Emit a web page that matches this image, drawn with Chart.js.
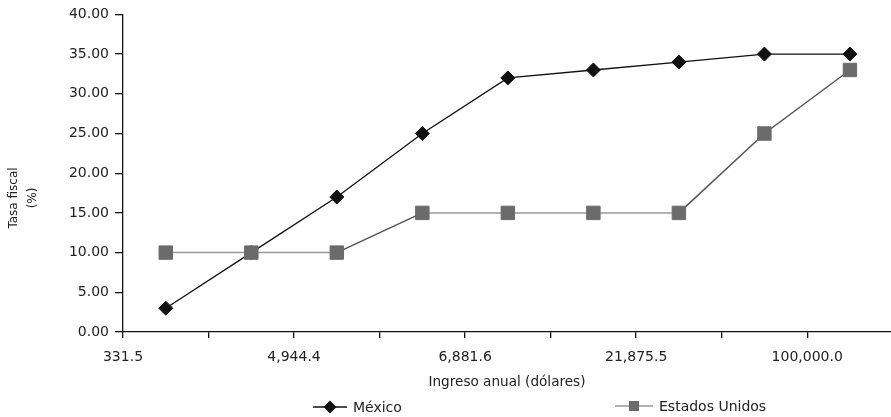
<!DOCTYPE html>
<html>
<head>
<meta charset="utf-8">
<script src="https://cdn.jsdelivr.net/npm/chart.js@4/dist/chart.umd.min.js"></script>
<style>
  html, body { margin: 0; padding: 0; background: #fff; }
  #wrap { position: relative; width: 891px; height: 417px; }
  #c { position: absolute; left: 0; top: 0; }
  .lg { position: absolute; display: flex; align-items: center; height: 18px;
        font: 14px "DejaVu Sans", sans-serif; color: #222; white-space: nowrap; }
  .lg svg { margin-right: 6px; }
</style>
</head>
<body>
<div id="wrap">
  <canvas id="c" width="891" height="417"></canvas>
</div>
<script>
// Income bracket edges (labels sit on every other bracket boundary)
const incomeEdges = ['331.5', '', '4,944.4', '', '6,881.6', '', '21,875.5', '', '100,000.0'];
// Tax rate (%) per income bracket
const mexicoRates = [3, 10, 17, 25, 32, 33, 34, 35, 35];
const usRates = [10, 10, 10, 15, 15, 15, 15, 25, 33];
// Y axis tick values
const yTickValues = [0, 5, 10, 15, 20, 25, 30, 35, 40];
const seriesNames = ['México', 'Estados Unidos'];
const xTitle = 'Ingreso anual (dólares)';
const yTitle = ['Tasa fiscal', '(%)'];

const FONT = '"DejaVu Sans", sans-serif';
const INK = '#111';

// each bracket's point sits in the middle of its bracket
const toPoints = arr => arr.map((v, i) => ({ x: i + 0.5, y: v }));

// rotated two-line title for the y axis
const yTitlePlugin = {
  id: 'yTitle',
  afterDraw(chart) {
    const { ctx, chartArea } = chart;
    const cy = chartArea.top + (chartArea.bottom - chartArea.top) * 0.578;
    ctx.save();
    ctx.fillStyle = '#222';
    ctx.font = '12px ' + FONT;
    ctx.textAlign = 'center';
    ctx.textBaseline = 'middle';
    [14, 33].forEach((x, i) => {
      ctx.save();
      ctx.translate(x, cy);
      ctx.rotate(-Math.PI / 2);
      ctx.fillText(yTitle[i], 0, 0);
      ctx.restore();
    });
    ctx.restore();
  }
};

const chart = new Chart(document.getElementById('c'), {
  type: 'line',
  data: {
    datasets: [
      {
        label: seriesNames[0],
        data: toPoints(mexicoRates),
        order: 2,
        borderColor: INK,
        borderWidth: 1.3,
        pointStyle: 'rectRot',
        pointRadius: 7,
        pointBackgroundColor: INK,
        pointBorderColor: INK,
        pointBorderWidth: 1,
        tension: 0
      },
      {
        label: seriesNames[1],
        data: toPoints(usRates),
        order: 1,
        borderColor: '#9a9a9a',
        borderWidth: 1.5,
        segment: {
          borderColor: c => c.p0.parsed.y === c.p1.parsed.y ? '#9a9a9a' : '#555'
        },
        pointStyle: 'rect',
        pointRadius: 9.5,
        pointBackgroundColor: '#6b6b6b',
        pointBorderColor: '#6b6b6b',
        pointBorderWidth: 1,
        tension: 0
      }
    ]
  },
  options: {
    responsive: false,
    animation: false,
    layout: { autoPadding: false, padding: { top: 7, right: 0, bottom: 20, left: 0 } },
    plugins: {
      legend: { display: false },
      tooltip: { enabled: false }
    },
    scales: {
      x: {
        type: 'linear',
        min: 0,
        max: 8.98,
        afterBuildTicks: s => { s.ticks = incomeEdges.map((_, i) => ({ value: i })); },
        afterFit: s => { s.height = 417 - 332 - 20; },
        grid: { drawOnChartArea: false, drawTicks: true, tickLength: 6, color: INK, lineWidth: 1.3 },
        border: { display: true, color: INK, width: 1.3 },
        ticks: {
          autoSkip: false, maxRotation: 0, padding: 11,
          color: '#222', font: { family: FONT, size: 14 },
          callback: v => incomeEdges[v] ?? ''
        },
        title: {
          display: true, text: xTitle, color: '#222',
          font: { family: FONT, size: 13.6 }, padding: { top: 0, bottom: 6 }
        }
      },
      y: {
        min: 0,
        max: 40,
        afterBuildTicks: s => { s.ticks = yTickValues.map(v => ({ value: v })); },
        afterFit: s => { s.width = 123; },
        grid: { drawOnChartArea: false, drawTicks: true, tickLength: 8, color: INK, lineWidth: 1.3 },
        border: { display: true, color: INK, width: 1.3 },
        ticks: {
          padding: 6, color: '#222', font: { family: FONT, size: 14 },
          callback: v => v.toFixed(2)
        }
      }
    }
  },
  plugins: [yTitlePlugin]
});

// legend: line sample with the series marker, placed under the axis title
const legendSpots = [{ left: 313, top: 398 }, { left: 615, top: 397 }];
const markers = [
  '<polygon points="17,2.5 23.5,9 17,15.5 10.5,9" fill="#111"/>',
  '<rect x="14" y="4" width="10" height="10" fill="#6b6b6b"/>'
];
chart.data.datasets.forEach((ds, i) => {
  const el = document.createElement('div');
  el.className = 'lg';
  el.style.left = legendSpots[i].left + 'px';
  el.style.top = legendSpots[i].top + 'px';
  const stroke = i === 0 ? '#111' : '#9a9a9a';
  const w = i === 0 ? 34 : 38;
  el.innerHTML = '<svg width="' + w + '" height="18"><line x1="0" y1="9" x2="' + w +
    '" y2="9" stroke="' + stroke + '" stroke-width="1.5"/>' +
    markers[i] + '</svg><span>' + ds.label + '</span>';
  document.getElementById('wrap').appendChild(el);
});
</script>
</body>
</html>
